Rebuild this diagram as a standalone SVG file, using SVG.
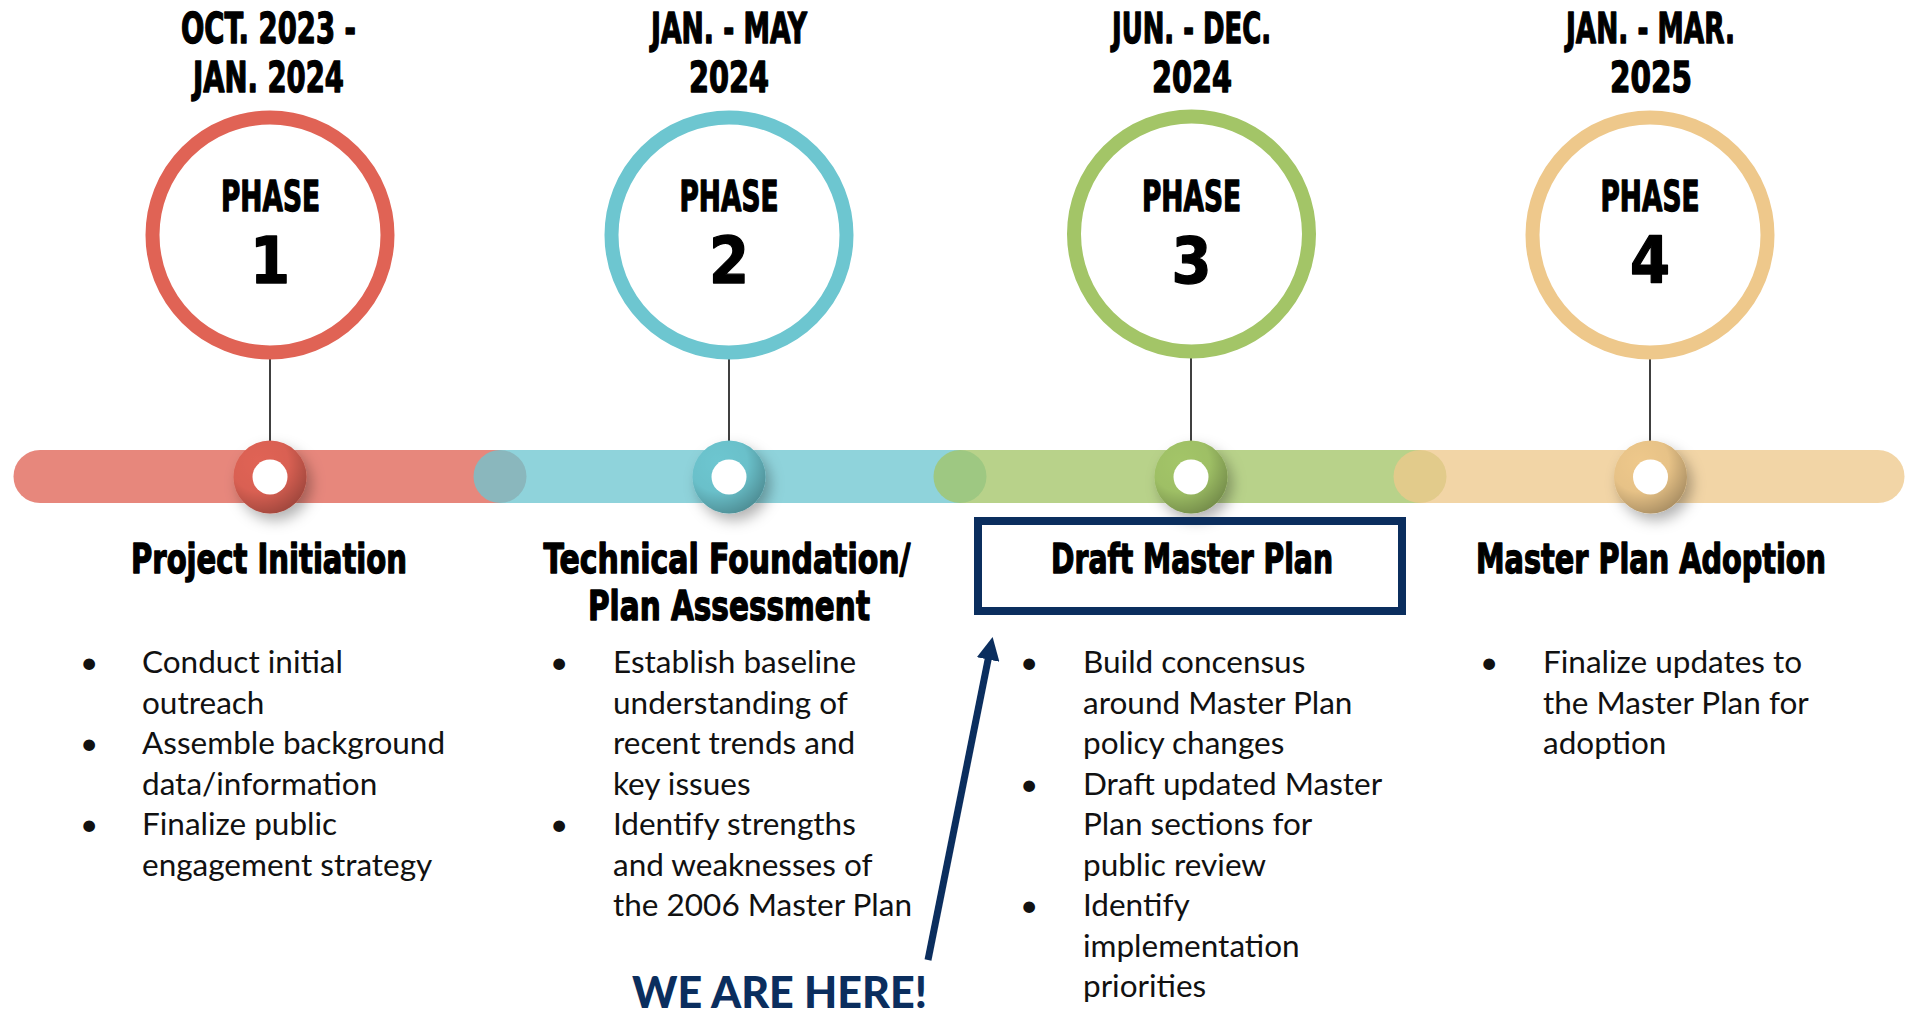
<svg xmlns="http://www.w3.org/2000/svg" width="1905" height="1012" viewBox="0 0 1905 1012">
  <style>
    .hd { font-family: 'Liberation Sans Narrow', 'DejaVu Sans Condensed', 'Liberation Sans', sans-serif; font-weight: bold; fill: #000; stroke: #000; stroke-width: 1.3; stroke-linejoin: round; text-anchor: middle; }
    .date { font-size: 42px; }
    .ph { font-size: 42px; }
    .num { font-size: 64px; }
    .title { font-size: 41px; }
    .body { font-family: Lato, 'Noto Sans', sans-serif; font-size: 31.5px; fill: #111; }
    .ring { fill: #fff; stroke-width: 14; }
    .stem { stroke: #000; stroke-width: 1.5; }
    .bar { stroke-width: 53; stroke-linecap: round; stroke-opacity: 0.77; fill: none; }
    .navy { fill: #0b2e5e; }
  </style>
  <defs>
    <radialGradient id="shade" cx="0.35" cy="0.3" r="0.8">
      <stop offset="0" stop-color="#000" stop-opacity="0"/>
      <stop offset="0.5" stop-color="#000" stop-opacity="0.03"/>
      <stop offset="1" stop-color="#000" stop-opacity="0.32"/>
    </radialGradient>
    <filter id="shadow" x="-60%" y="-60%" width="220%" height="220%">
      <feDropShadow dx="5" dy="7" stdDeviation="7" flood-color="#000" flood-opacity="0.3"/>
    </filter>
    <marker id="arrowHead" viewBox="0 0 23 23" markerWidth="23" markerHeight="23" refX="1" refY="11.5" orient="auto" markerUnits="userSpaceOnUse">
      <path d="M0,0 L23,11.5 L0,23 z" fill="#0b2e5e"/>
    </marker>
  </defs>

  <!-- timeline bar segments -->
  <g id="timeline">
    <line class="bar" x1="40" y1="476.5" x2="500" y2="476.5" stroke="#e06355"/>
    <line class="bar" x1="500" y1="476.5" x2="960" y2="476.5" stroke="#6dc6d0"/>
    <line class="bar" x1="960" y1="476.5" x2="1420" y2="476.5" stroke="#a3c567"/>
    <line class="bar" x1="1420" y1="476.5" x2="1878" y2="476.5" stroke="#eec88b"/>
  </g>

  <!-- connectors -->
  <g id="connectors">
    <line class="stem" x1="270" y1="359" x2="270" y2="442"/>
    <line class="stem" x1="729" y1="359" x2="729" y2="442"/>
    <line class="stem" x1="1191" y1="357" x2="1191" y2="442"/>
    <line class="stem" x1="1650" y1="359" x2="1650" y2="442"/>
    <line x1="928" y1="960" x2="988.3" y2="658.5" stroke="#0b2e5e" stroke-width="7" marker-end="url(#arrowHead)"/>
  </g>

  <!-- Phase 1 -->
  <g id="phase1">
    <text class="hd date" x="268.5" y="43" textLength="175" lengthAdjust="spacingAndGlyphs">OCT. 2023 -</text>
    <text class="hd date" x="268.5" y="92" textLength="151" lengthAdjust="spacingAndGlyphs">JAN. 2024</text>
    <circle class="ring" cx="270" cy="235" r="117.5" stroke="#e06355"/>
    <text class="hd ph" x="270.5" y="211" textLength="99" lengthAdjust="spacingAndGlyphs">PHASE</text>
    <text class="hd num" x="270" y="283">1</text>
    <g filter="url(#shadow)">
      <circle cx="270" cy="477" r="36.5" fill="#e06355"/>
    </g>
    <circle cx="270" cy="477" r="36.5" fill="url(#shade)"/>
    <circle cx="270" cy="477" r="17.5" fill="#fff"/>
    <text class="hd title" x="269" y="573" textLength="276" lengthAdjust="spacingAndGlyphs">Project Initiation</text>
    <text class="body">
      <tspan x="80" y="673">•</tspan><tspan x="142" y="673">Conduct initial</tspan>
      <tspan x="142" y="713.5">outreach</tspan>
      <tspan x="80" y="754">•</tspan><tspan x="142" y="754">Assemble background</tspan>
      <tspan x="142" y="794.5">data/information</tspan>
      <tspan x="80" y="835">•</tspan><tspan x="142" y="835">Finalize public</tspan>
      <tspan x="142" y="875.5">engagement strategy</tspan>
    </text>
  </g>

  <!-- Phase 2 -->
  <g id="phase2">
    <text class="hd date" x="729" y="43" textLength="156" lengthAdjust="spacingAndGlyphs">JAN. - MAY</text>
    <text class="hd date" x="729" y="92" textLength="80" lengthAdjust="spacingAndGlyphs">2024</text>
    <circle class="ring" cx="729" cy="235" r="117.5" stroke="#6dc6d0"/>
    <text class="hd ph" x="729" y="211" textLength="99" lengthAdjust="spacingAndGlyphs">PHASE</text>
    <text class="hd num" x="729" y="283">2</text>
    <g filter="url(#shadow)">
      <circle cx="729" cy="477" r="36.5" fill="#6dc6d0"/>
    </g>
    <circle cx="729" cy="477" r="36.5" fill="url(#shade)"/>
    <circle cx="729" cy="477" r="17.5" fill="#fff"/>
    <text class="hd title" x="727" y="573" textLength="367" lengthAdjust="spacingAndGlyphs">Technical Foundation/</text>
    <text class="hd title" x="729" y="620" textLength="282" lengthAdjust="spacingAndGlyphs">Plan Assessment</text>
    <text class="body">
      <tspan x="550" y="673">•</tspan><tspan x="613" y="673">Establish baseline</tspan>
      <tspan x="613" y="713.5">understanding of</tspan>
      <tspan x="613" y="754">recent trends and</tspan>
      <tspan x="613" y="794.5">key issues</tspan>
      <tspan x="550" y="835">•</tspan><tspan x="613" y="835">Identify strengths</tspan>
      <tspan x="613" y="875.5">and weaknesses of</tspan>
      <tspan x="613" y="916">the 2006 Master Plan</tspan>
    </text>
  </g>

  <!-- Phase 3 -->
  <g id="phase3">
    <text class="hd date" x="1191.5" y="43" textLength="159" lengthAdjust="spacingAndGlyphs">JUN. - DEC.</text>
    <text class="hd date" x="1192" y="92" textLength="80" lengthAdjust="spacingAndGlyphs">2024</text>
    <circle class="ring" cx="1191.5" cy="234" r="117.5" stroke="#a3c567"/>
    <text class="hd ph" x="1191.5" y="211" textLength="99" lengthAdjust="spacingAndGlyphs">PHASE</text>
    <text class="hd num" x="1191.5" y="283">3</text>
    <g filter="url(#shadow)">
      <circle cx="1191" cy="477" r="36.5" fill="#a3c567"/>
    </g>
    <circle cx="1191" cy="477" r="36.5" fill="url(#shade)"/>
    <circle cx="1191" cy="477" r="17.5" fill="#fff"/>
    <rect x="978" y="521" width="424" height="90" fill="none" stroke="#0b2e5e" stroke-width="8"/>
    <text class="hd title" x="1192" y="573" textLength="282" lengthAdjust="spacingAndGlyphs">Draft Master Plan</text>
    <text class="body">
      <tspan x="1020" y="673">•</tspan><tspan x="1083" y="673">Build concensus</tspan>
      <tspan x="1083" y="713.5">around Master Plan</tspan>
      <tspan x="1083" y="754">policy changes</tspan>
      <tspan x="1020" y="794.5">•</tspan><tspan x="1083" y="794.5">Draft updated Master</tspan>
      <tspan x="1083" y="835">Plan sections for</tspan>
      <tspan x="1083" y="875.5">public review</tspan>
      <tspan x="1020" y="916">•</tspan><tspan x="1083" y="916">Identify</tspan>
      <tspan x="1083" y="956.5">implementation</tspan>
      <tspan x="1083" y="997">priorities</tspan>
    </text>
  </g>

  <!-- Phase 4 -->
  <g id="phase4">
    <text class="hd date" x="1650.5" y="43" textLength="169" lengthAdjust="spacingAndGlyphs">JAN. - MAR.</text>
    <text class="hd date" x="1651" y="92" textLength="82" lengthAdjust="spacingAndGlyphs">2025</text>
    <circle class="ring" cx="1650" cy="235" r="117.5" stroke="#eec88b"/>
    <text class="hd ph" x="1650" y="211" textLength="99" lengthAdjust="spacingAndGlyphs">PHASE</text>
    <text class="hd num" x="1650" y="283">4</text>
    <g filter="url(#shadow)">
      <circle cx="1650.5" cy="477" r="36.5" fill="#eec88b"/>
    </g>
    <circle cx="1650.5" cy="477" r="36.5" fill="url(#shade)"/>
    <circle cx="1650.5" cy="477" r="17.5" fill="#fff"/>
    <text class="hd title" x="1651" y="573" textLength="350" lengthAdjust="spacingAndGlyphs">Master Plan Adoption</text>
    <text class="body">
      <tspan x="1480" y="673">•</tspan><tspan x="1543" y="673">Finalize updates to</tspan>
      <tspan x="1543" y="713.5">the Master Plan for</tspan>
      <tspan x="1543" y="754">adoption</tspan>
    </text>
  </g>

  <!-- callout -->
  <g id="we-are-here">
    <text x="632" y="1008" font-family="Lato, 'Open Sans', sans-serif" font-weight="900" font-size="43" class="navy" textLength="295" lengthAdjust="spacingAndGlyphs">WE ARE HERE!</text>
  </g>
</svg>
